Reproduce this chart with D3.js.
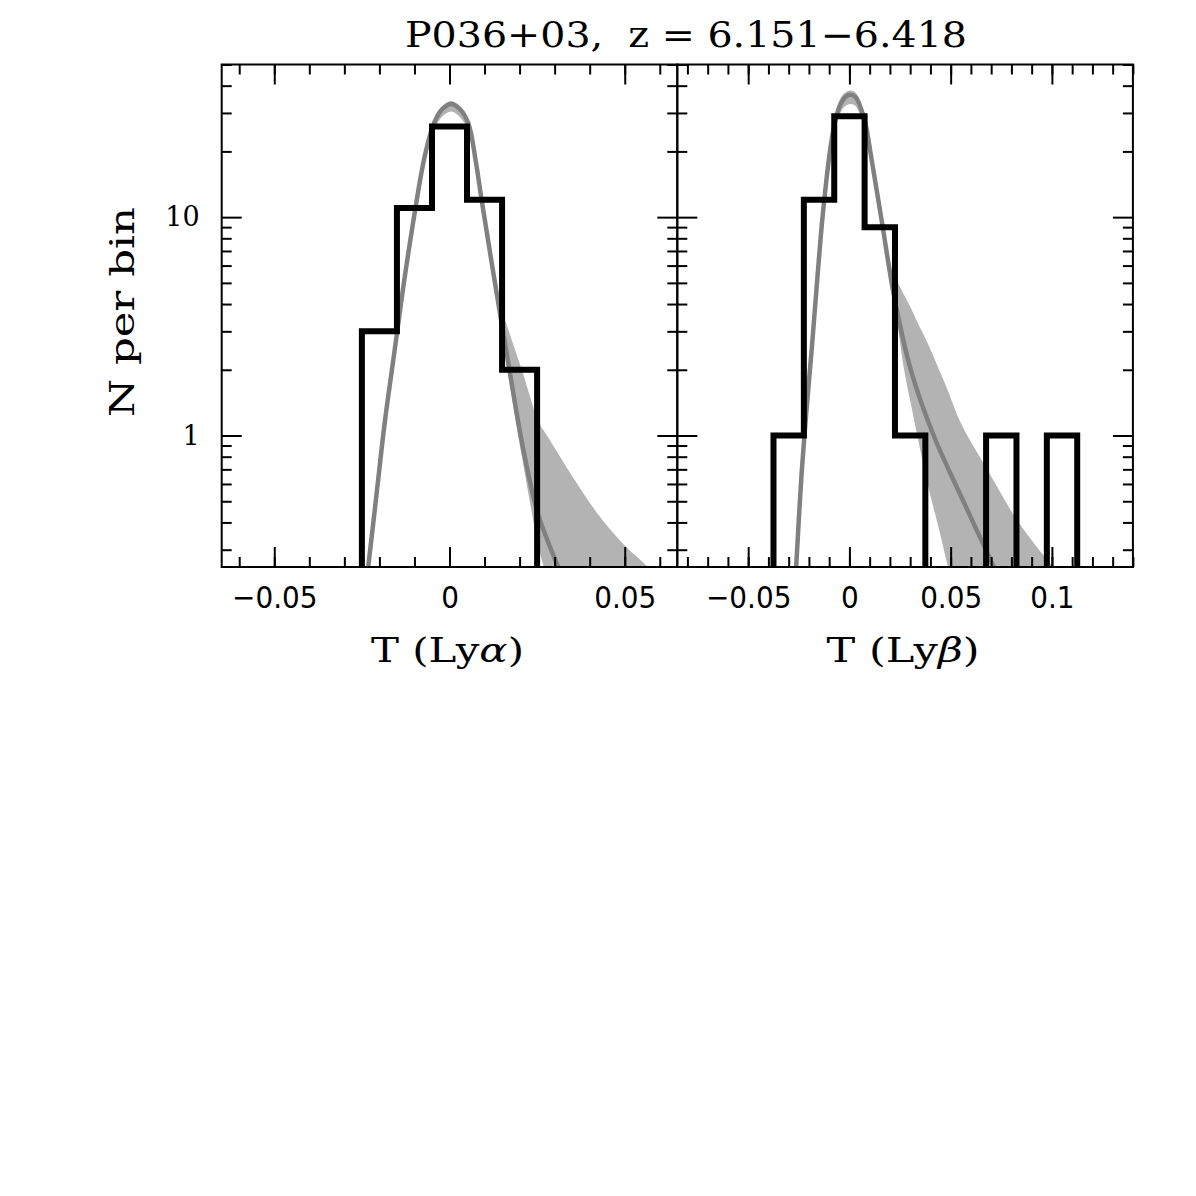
<!DOCTYPE html>
<html>
<head>
<meta charset="utf-8">
<script src="https://cdn.jsdelivr.net/npm/d3@7"></script>
<style>
  body { margin: 0; background: #fff; }
  .tick line { stroke: #000; stroke-width: 2; }
  .domain { display: none; }
</style>
</head>
<body>
<svg id="chart" width="1196" height="1196"></svg>
<script>
// ---- data ----
const titleText = 'P036+03,  z = 6.151\u22126.418';

// Ly-alpha histogram (bin centres, counts)
const alphaBins = [-0.02, -0.01, 0, 0.01, 0.02];
const alphaCounts = [3, 11, 26, 12, 2];
const alphaBinWidth = 0.01;

// Ly-beta histogram
const betaBins = [-0.03, -0.015, 0, 0.015, 0.03, 0.045, 0.06, 0.075, 0.09, 0.105];
const betaCounts = [1, 12, 29, 9, 1, 0, 0, 1, 0, 1];
const betaBinWidth = 0.015;

// model curve (dark grey) and its spread (light grey band), Ly-alpha
const alphaModelT = [-0.0245, -0.0232, -0.0207, -0.0185, -0.0159, -0.0133, -0.0104, -0.0071, -0.0044, -0.002, 0.0005, 0.003, 0.0054, 0.0075, 0.0092, 0.0128, 0.0171, 0.0209, 0.0252, 0.031, 0.034];
const alphaModelN = [0.17, 0.25, 0.56, 1.14, 2.3, 4.65, 9.4, 18.9, 27, 31.3, 33, 31.2, 26.8, 18, 11.9, 5.2, 2.0, 0.89, 0.44, 0.25, 0.19];
const alphaBandT = [-0.025, -0.0232, -0.0207, -0.0185, -0.0159, -0.0133, -0.0104, -0.0071, -0.0044, -0.002, 0.0005, 0.003, 0.0054, 0.0075, 0.0092, 0.0128, 0.0147, 0.0171, 0.0209, 0.0256, 0.028, 0.0356, 0.0422, 0.0503, 0.0565, 0.062];
const alphaBandLo = [0.13, 0.22, 0.5, 1.03, 2.1, 4.25, 8.7, 17.5, 25, 29, 30.5, 28.7, 24.8, 16.8, 11.1, 4.85, 3.2, 1.75, 0.76, 0.3, 0.22, 0.1, 0.1, 0.1, 0.1, 0.1];
const alphaBandHi = [0.17, 0.27, 0.6, 1.22, 2.45, 4.95, 10, 19.9, 28.2, 32.3, 34, 32.2, 28, 18.9, 12.6, 5.6, 3.9, 2.95, 1.94, 1.14, 0.99, 0.63, 0.44, 0.31, 0.25, 0.19];

// model curve and band, Ly-beta
const betaModelT = [-0.0275, -0.0262, -0.0238, -0.0213, -0.0185, -0.0159, -0.0131, -0.0093, -0.0069, -0.0041, -0.0015, 0.0008, 0.003, 0.0074, 0.0107, 0.0164, 0.0221, 0.0303, 0.0418, 0.055, 0.0713, 0.076];
const betaModelN = [0.16, 0.26, 0.63, 1.27, 2.56, 5.16, 10.4, 21, 27.9, 33.3, 35.8, 36.3, 35.5, 28, 19, 9.06, 4.33, 2.0, 0.99, 0.53, 0.25, 0.2];
const betaBandT = [-0.0275, -0.0262, -0.0238, -0.0213, -0.0185, -0.0159, -0.0131, -0.0093, -0.0069, -0.0041, -0.0015, 0.0008, 0.003, 0.0074, 0.0107, 0.0164, 0.0205, 0.0221, 0.024, 0.027, 0.0303, 0.0336, 0.0386, 0.0443, 0.0487, 0.055, 0.068, 0.0828, 0.0976, 0.1008, 0.105];
const betaBandLo = [0.14, 0.22, 0.57, 1.15, 2.3, 4.6, 9.4, 19, 25.5, 30.5, 32.5, 33, 32.3, 25.5, 17.5, 8.4, 4.9, 4.0, 3.1, 2.0, 1.4, 0.99, 0.6, 0.37, 0.25, 0.15, 0.1, 0.1, 0.1, 0.1, 0.1];
const betaBandHi = [0.18, 0.29, 0.7, 1.4, 2.8, 5.6, 11.4, 22.8, 30, 35.5, 37.5, 38, 37.2, 30, 20.5, 9.7, 5.9, 5.4, 5.0, 4.4, 3.85, 3.3, 2.65, 2.0, 1.6, 1.14, 0.7, 0.41, 0.27, 0.25, 0.22];

// axes
const alphaDomain = [-0.065, 0.065];
const betaDomain = [-0.085, 0.14];
const alphaMajor = [-0.05, 0, 0.05];
const betaMajor = [-0.05, 0, 0.05, 0.1];
const yDomain = [0.25, 50];
const yMajor = [1, 10];
const yMinor = [0.3, 0.4, 0.5, 0.6, 0.7, 0.8, 0.9, 2, 3, 4, 5, 6, 7, 8, 9, 20, 30, 40, 50];

// ---- layout ----
const plotTop = 64.5, plotBottom = 567;
const panelW = 455.6;
const leftX = 221.7, rightX = leftX + panelW;

const svg = d3.select('#chart');

const y = d3.scaleLog().domain(yDomain).range([plotBottom, plotTop]);
const fmt = d => String(d).replace('-', '\u2212');
const smooth = d3.curveCatmullRom.alpha(0.5);

function drawPanel(id, x0, xDomain, majors, bins, counts, binW, modelT, modelN, bandT, bandLo, bandHi, greek, showY) {
  const x = d3.scaleLinear().domain(xDomain).range([x0, x0 + panelW]);
  const minors = d3.range(Math.ceil(xDomain[0] * 100), Math.floor(xDomain[1] * 100) + 1).map(i => i / 100);

  const g = svg.append('g');
  svg.append('clipPath').attr('id', id)
    .append('rect').attr('x', x0).attr('y', plotTop).attr('width', panelW).attr('height', plotBottom - plotTop);

  const plot = g.append('g').attr('clip-path', `url(#${id})`);

  const band = bandT.map((t, i) => ({ t, lo: bandLo[i], hi: bandHi[i] }));
  plot.append('path')
    .datum(band)
    .attr('fill', '#b3b3b3')
    .attr('d', d3.area()
      .x(d => x(d.t))
      .y0(d => y(d.lo))
      .y1(d => y(d.hi))
      .curve(smooth));

  const model = modelT.map((t, i) => ({ t, n: modelN[i] }));
  plot.append('path')
    .datum(model)
    .attr('fill', 'none')
    .attr('stroke', '#808080')
    .attr('stroke-width', 4.5)
    .attr('d', d3.line()
      .x(d => x(d.t))
      .y(d => y(d.n))
      .curve(smooth));

  // histogram outline as steps; empty bins drop below the axis
  const floor = 0.1;
  const steps = [];
  bins.forEach((c, i) => {
    const n = counts[i] > 0 ? counts[i] : floor;
    if (i === 0) steps.push([c - binW / 2, floor]);
    steps.push([c - binW / 2, n]);
    steps.push([c + binW / 2, n]);
    if (i === bins.length - 1) steps.push([c + binW / 2, floor]);
  });
  plot.append('path')
    .datum(steps)
    .attr('fill', 'none')
    .attr('stroke', '#000')
    .attr('stroke-width', 6)
    .attr('stroke-linejoin', 'miter')
    .attr('d', d3.line().x(d => x(d[0])).y(d => y(d[1])));

  // frame
  g.append('rect')
    .attr('x', x0).attr('y', plotTop)
    .attr('width', panelW).attr('height', plotBottom - plotTop)
    .attr('fill', 'none').attr('stroke', '#000').attr('stroke-width', 2);

  // x ticks
  g.append('g').attr('transform', `translate(0,${plotBottom})`)
    .call(d3.axisBottom(x).tickValues(minors).tickSize(-10).tickFormat(''));
  g.append('g').attr('class', 'xlab').attr('transform', `translate(0,${plotBottom})`)
    .call(d3.axisBottom(x).tickValues(majors).tickSize(-20).tickPadding(19).tickFormat(fmt));
  g.append('g').attr('transform', `translate(0,${plotTop})`)
    .call(d3.axisTop(x).tickValues(minors).tickSize(-10).tickFormat(''));
  g.append('g').attr('transform', `translate(0,${plotTop})`)
    .call(d3.axisTop(x).tickValues(majors).tickSize(-20).tickFormat(''));

  // y ticks both sides
  g.append('g').attr('transform', `translate(${x0},0)`)
    .call(d3.axisLeft(y).tickValues(yMinor).tickSize(-10).tickFormat(''));
  g.append('g').attr('class', 'ylab').attr('transform', `translate(${x0},0)`)
    .call(d3.axisLeft(y).tickValues(yMajor).tickSize(-20).tickPadding(22)
      .tickFormat(showY ? d3.format('d') : ''));
  g.append('g').attr('transform', `translate(${x0 + panelW},0)`)
    .call(d3.axisRight(y).tickValues(yMinor).tickSize(-10).tickFormat(''));
  g.append('g').attr('transform', `translate(${x0 + panelW},0)`)
    .call(d3.axisRight(y).tickValues(yMajor).tickSize(-20).tickFormat(''));

  const lab = g.append('text')
    .attr('x', x0 + panelW / 2 - 2).attr('y', 662)
    .attr('text-anchor', 'middle')
    .attr('font-family', 'DejaVu Serif')
    .attr('font-size', 34)
    .attr('textLength', 153).attr('lengthAdjust', 'spacingAndGlyphs');
  lab.append('tspan').text('T (Ly');
  lab.append('tspan').attr('font-style', 'italic').text(greek);
  lab.append('tspan').text(')');
}

drawPanel('clipA', leftX, alphaDomain, alphaMajor, alphaBins, alphaCounts, alphaBinWidth,
  alphaModelT, alphaModelN, alphaBandT, alphaBandLo, alphaBandHi, '\u03b1', true);
drawPanel('clipB', rightX, betaDomain, betaMajor, betaBins, betaCounts, betaBinWidth,
  betaModelT, betaModelN, betaBandT, betaBandLo, betaBandHi, '\u03b2', false);

svg.selectAll('.xlab text')
  .attr('font-family', "'Liberation Sans Narrow', 'DejaVu Sans Condensed', sans-serif")
  .attr('font-size', 31).attr('fill', '#000');
svg.selectAll('.ylab text')
  .attr('font-family', 'DejaVu Serif')
  .attr('font-size', 27).attr('fill', '#000');

svg.append('text')
  .attr('x', 686).attr('y', 47)
  .attr('text-anchor', 'middle')
  .attr('font-family', 'DejaVu Serif')
  .attr('font-size', 35)
  .attr('textLength', 562).attr('lengthAdjust', 'spacingAndGlyphs')
  .style('white-space', 'pre')
  .text(titleText);

svg.append('text')
  .attr('transform', 'translate(134,312) rotate(-90)')
  .attr('text-anchor', 'middle')
  .attr('font-family', 'DejaVu Serif')
  .attr('font-size', 34)
  .attr('textLength', 210).attr('lengthAdjust', 'spacingAndGlyphs')
  .text('N per bin');
</script>
</body>
</html>
